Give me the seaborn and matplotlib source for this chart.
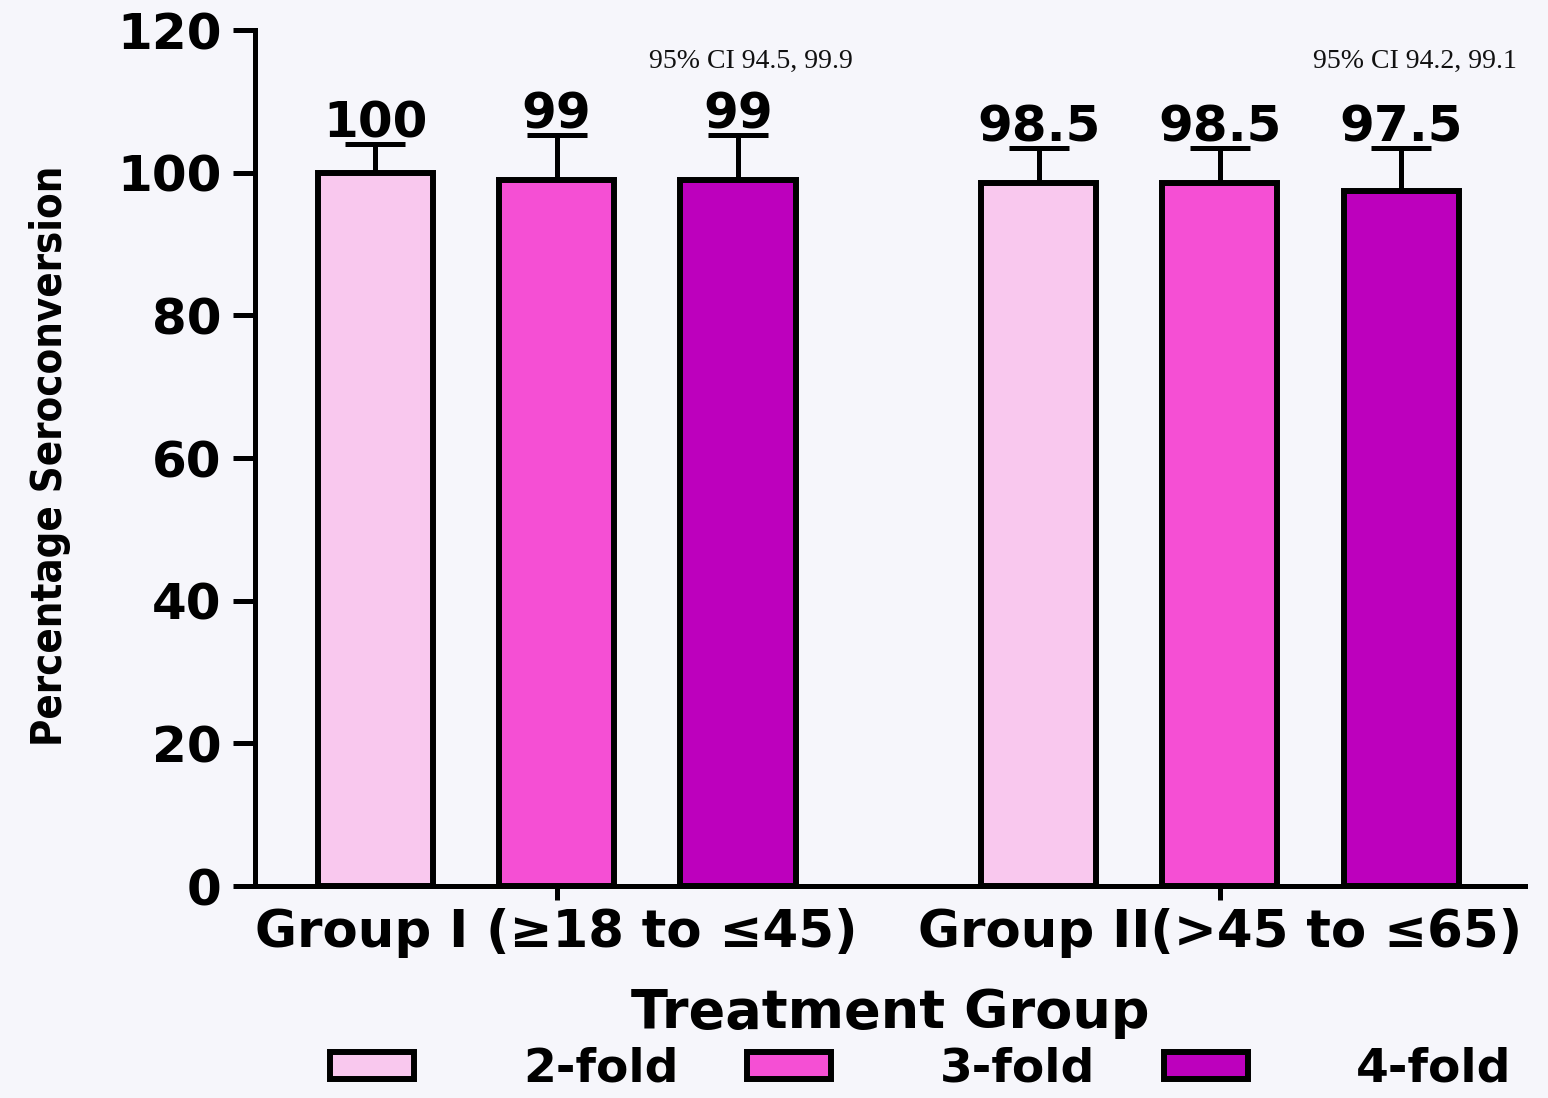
import matplotlib
matplotlib.use("Agg")
import matplotlib.pyplot as plt
from matplotlib import font_manager
from matplotlib.patches import Patch
import seaborn as sns
import pandas as pd

# ---- data ----
groups = ["Group I (\u226518 to \u226445)", "Group II(>45 to \u226465)"]
folds = ["2-fold", "3-fold", "4-fold"]
seroconversion = [[100, 99, 99], [98.5, 98.5, 97.5]]
upper_error = [[4.0, 6.3, 6.3], [4.9, 4.9, 5.9]]
ci_labels = ["95% CI 94.5, 99.9", "95% CI 94.2, 99.1"]
value_labels = [["100", "99", "99"], ["98.5", "98.5", "97.5"]]
yticks = [0, 20, 40, 60, 80, 100, 120]
fold_colors = ["#f9c8ee", "#f54fd4", "#bd00bd"]

rows = []
for g, vals in zip(groups, seroconversion):
    for f, v in zip(folds, vals):
        rows.append({"group": g, "fold": f, "value": v})
df = pd.DataFrame(rows)

sns.set_theme(style="ticks")
plt.rcParams["font.family"] = ["DejaVu Sans"]
for key in ["text.color", "axes.labelcolor", "xtick.color", "ytick.color",
            "axes.edgecolor"]:
    plt.rcParams[key] = "black"

# pick a narrow face for the vertical axis title if one is installed
fonts = font_manager.fontManager.ttflist
names = {f.name for f in fonts}
if "Liberation Sans Narrow" in names:
    ylab_font = dict(family=["Liberation Sans Narrow", "DejaVu Sans"], fontsize=38)
elif any(f.name == "DejaVu Sans" and f.stretch == "condensed" for f in fonts):
    ylab_font = dict(family=["DejaVu Sans"], fontstretch="condensed", fontsize=30)
else:
    ylab_font = dict(family=["DejaVu Sans"], fontsize=27)

bg = "#f6f6fb"
fig = plt.figure(figsize=(15.48, 10.98), dpi=100, facecolor=bg)
ax = fig.add_axes([255 / 1548, 1 - 886 / 1098, 1270 / 1548, 856 / 1098])
ax.set_facecolor(bg)

sns.barplot(data=df, x="group", y="value", hue="fold", order=groups,
            hue_order=folds, palette=fold_colors, saturation=1, width=0.82,
            gap=0.365, edgecolor="black", linewidth=4.3, errorbar=None,
            legend=False, ax=ax, zorder=3)
bar_containers = list(ax.containers)

# one-sided error bars and value labels on top of each bar
for hi, container in enumerate(bar_containers):
    for gi, bar in enumerate(container):
        xc = bar.get_x() + bar.get_width() / 2
        h = bar.get_height()
        err = upper_error[gi][hi]
        ax.errorbar([xc], [h], yerr=[[0], [err]], fmt="none", ecolor="black",
                    elinewidth=3.6, capsize=21.5, capthick=3.6, zorder=2)
        ax.text(xc, h + err + 0.9, value_labels[gi][hi], ha="center",
                va="baseline", fontsize=36, fontweight="bold", color="black")

# confidence interval notes above each group
for gi, txt in enumerate(ci_labels):
    bar = bar_containers[2][gi]
    xc = bar.get_x() + bar.get_width() / 2
    ax.text(xc + 0.02, 114.7, txt, ha="center", va="baseline", fontsize=20,
            family=["Liberation Serif", "DejaVu Serif"], color="#111111")

ax.set_xlim(-0.455, 1.46)
ax.set_ylim(0, 120)
ax.set_yticks(yticks)
ax.set_yticklabels([str(t) for t in yticks])
sns.despine(ax=ax)
for side in ["left", "bottom"]:
    ax.spines[side].set_linewidth(3.6)
    ax.spines[side].set_color("black")

ax.tick_params(axis="y", length=16, width=3.6, pad=8, labelsize=36,
               color="black", labelcolor="black")
ax.tick_params(axis="x", length=10, width=3.6, pad=6, labelsize=37,
               color="black", labelcolor="black")
for lab in ax.get_yticklabels() + ax.get_xticklabels():
    lab.set_fontweight("bold")

ax.set_xlabel("Treatment Group", fontsize=39, fontweight="bold")
ax.xaxis.set_label_coords(0.5, -0.118)
ax.set_ylabel("Percentage Seroconversion", fontweight="bold", **ylab_font)
ax.yaxis.set_label_coords(-0.145, 0.502)

handles = [Patch(facecolor=c, edgecolor="black", linewidth=4.3) for c in fold_colors]
leg = fig.legend(handles, folds, loc="center", ncol=3,
                 bbox_to_anchor=(0.595, 0.026), frameon=False,
                 prop={"size": 34, "weight": "bold"}, handlelength=1.78,
                 handleheight=0.5, handletextpad=2.3, columnspacing=1.45,
                 borderpad=0, borderaxespad=0)

fig.savefig("out.png", dpi=100, facecolor=bg)
